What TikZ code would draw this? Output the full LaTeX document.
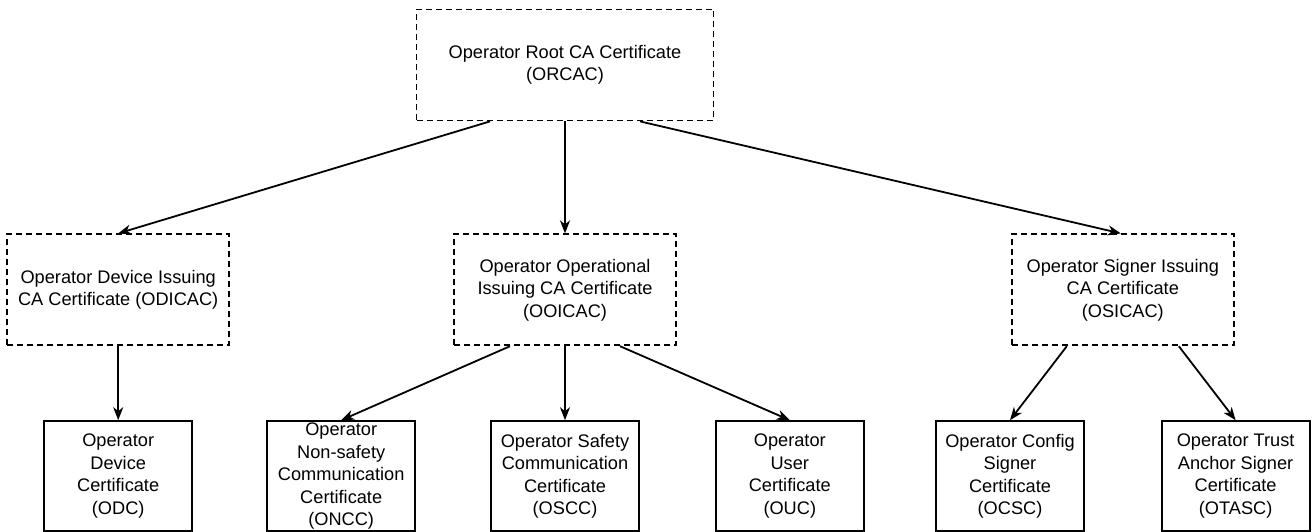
\documentclass[tikz,border=0pt]{standalone}
\usepackage{fontspec}
\setmainfont{Liberation Sans}
\usepackage{tikz}
\usetikzlibrary{arrows.meta,positioning}
\tikzset{
  cabox/.style={draw=black,dashed,dash pattern=on 6pt off 4pt,line width=1.8pt,minimum width=222pt,minimum height=111pt,inner sep=0pt,align=center,font=\fontsize{18.2}{22.5}\selectfont},
  certbox/.style={draw=black,line width=1.8pt,minimum width=148pt,minimum height=110pt,inner sep=0pt,align=center,font=\fontsize{18.2}{22.5}\selectfont},
  issue/.style={-{Stealth[length=13pt,width=10pt,inset=4pt]},line width=1.8pt,draw=black}
}
\begin{document}
\begin{tikzpicture}[x=1pt,y=1pt]
\useasboundingbox (0,0) rectangle (1314,-532);
\node[cabox,minimum width=297pt] (orcac) at (565,-65) {Operator Root CA Certificate\\(ORCAC)};
\node[cabox,below=112pt of orcac] (ooicac) {Operator Operational\\Issuing CA Certificate\\(OOICAC)};
\node[cabox,left=223pt of ooicac] (odicac) {Operator Device Issuing\\CA Certificate (ODICAC)};
\node[cabox,right=334pt of ooicac] (osicac) {Operator Signer Issuing\\CA Certificate\\(OSICAC)};
\node[certbox,below=74pt of ooicac] (oscc) {Operator Safety\\Communication\\Certificate\\(OSCC)};
\node[certbox,left=74pt of oscc] (oncc) {Operator\\Non-safety\\Communication\\Certificate\\(ONCC)};
\node[certbox,right=75pt of oscc] (ouc) {Operator\\User\\Certificate\\(OUC)};
\node[certbox,below=74pt of odicac] (odc) {Operator\\Device\\Certificate\\(ODC)};
\node[certbox,below left=74pt and -74pt of osicac] (ocsc) {Operator Config\\Signer\\Certificate\\(OCSC)};
\node[certbox,below right=74pt and -74pt of osicac] (otasc) {Operator Trust\\Anchor Signer\\Certificate\\(OTASC)};
\draw[issue] ([xshift=-75pt]orcac.south)--(odicac.north);
\draw[issue] (orcac.south)--(ooicac.north);
\draw[issue] ([xshift=75pt]orcac.south)--([xshift=-2pt]osicac.north);
\draw[issue] (odicac.south)--(odc.north);
\draw[issue] ([xshift=-55pt]ooicac.south)--(oncc.north);
\draw[issue] (ooicac.south)--(oscc.north);
\draw[issue] ([xshift=55pt]ooicac.south)--(ouc.north);
\draw[issue] ([xshift=-56pt]osicac.south)--(ocsc.north);
\draw[issue] ([xshift=56pt]osicac.south)--(otasc.north);
\end{tikzpicture}
\end{document}
